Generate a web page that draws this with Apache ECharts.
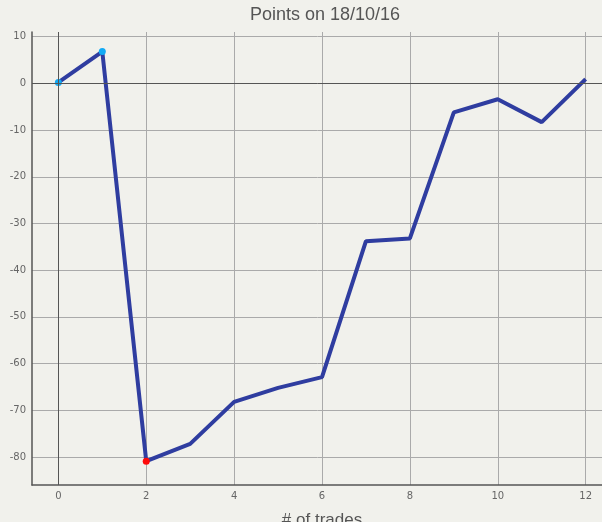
<!DOCTYPE html>
<html><head><meta charset="utf-8">
<script src="https://cdn.jsdelivr.net/npm/echarts@6/dist/echarts.min.js"></script>
<style>html,body{margin:0;padding:0;background:#f1f1ec;}#c{width:602px;height:522px;}</style>
</head><body><div id="c"></div>
<script>
const titleText = "Points on 18/10/16";
const xName = "# of trades";
const trades = [0,1,2,3,4,5,6,7,8,9,10,11,12];
const points = [0.2,6.8,-80.9,-77.2,-68.2,-65.2,-62.9,-33.8,-33.2,-6.2,-3.4,-8.3,0.9];
const xTicks = [0,2,4,6,8,10,12];
const yTicks = [-80,-70,-60,-50,-40,-30,-20,-10,0,10];
const highlight = {0:'#12aaf5',1:'#12aaf5',2:'#ff0a0a'};

const data = trades.map((t,i)=>{
  const d = {value:[t,points[i]]};
  if (highlight[i]) { d.symbol='circle'; d.symbolSize=7; d.itemStyle={color:highlight[i]}; }
  else { d.symbol='none'; }
  return d;
});

const chart = echarts.init(document.getElementById('c'));
chart.setOption({
  backgroundColor:'#f1f1ec',
  animation:false,
  title:{text:titleText,left:320,textAlign:'center',top:1,textStyle:{fontFamily:'Liberation Sans',fontSize:18,fontWeight:'normal',color:'#555'}},
  grid:{left:32,right:-10,top:32,bottom:37,containLabel:false,outerBoundsMode:'none'},
  xAxis:{type:'value',min:-0.6,max:12.6,name:xName,nameLocation:'middle',nameGap:27,
    nameTextStyle:{fontFamily:'Liberation Sans',fontSize:17,color:'#555'},
    axisLine:{onZero:false,lineStyle:{color:'#555',width:1.5}},
    axisTick:{show:false,customValues:xTicks},
    axisLabel:{color:'#666',fontFamily:'DejaVu Sans',fontSize:10,margin:6,customValues:xTicks},
    splitLine:{show:true,lineStyle:{color:'#aaa',width:1}}},
  yAxis:{type:'value',min:-86,max:11,
    axisLine:{show:true,onZero:false,lineStyle:{color:'#555',width:1.5}},
    axisTick:{show:false,customValues:yTicks},
    axisLabel:{color:'#666',fontFamily:'DejaVu Sans',fontSize:10,margin:6,customValues:yTicks},
    splitLine:{show:true,lineStyle:{color:'#aaa',width:1}}},
  series:[{type:'line',data:data,lineStyle:{color:'#2f3da0',width:4},itemStyle:{color:'#2f3da0'},
    z:3,
    markLine:{silent:true,symbol:'none',label:{show:false},lineStyle:{color:'#555',type:'solid',width:1},
      data:[{xAxis:0},{yAxis:0}]}}]
});
</script></body></html>
